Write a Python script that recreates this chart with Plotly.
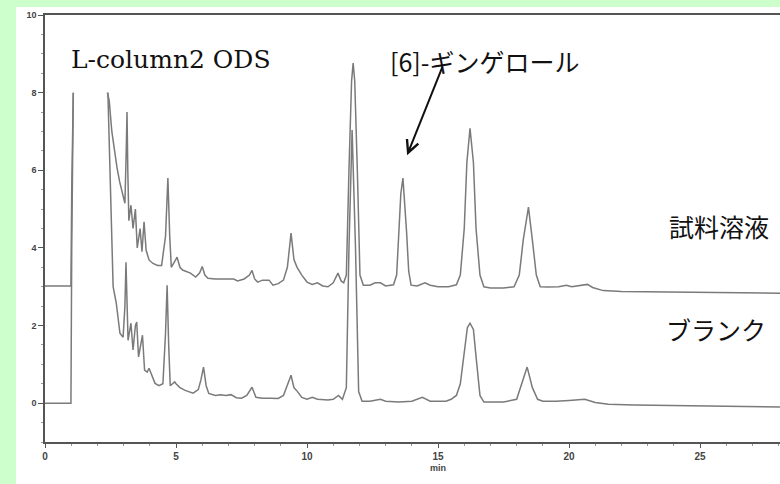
import plotly.graph_objects as go

# ---- data (time in min, signal in plotted units) ----
sample_time = [0.0, 0.99, 1.02, 1.08, 1.6,
               2.38, 2.45, 2.55, 2.65, 2.75, 2.85, 2.94, 3.05, 3.1, 3.13, 3.16, 3.2,
               3.28, 3.36, 3.45, 3.52, 3.63, 3.7, 3.78, 3.86, 3.97, 4.12, 4.3, 4.45,
               4.6, 4.69, 4.76, 4.82, 4.95, 5.04, 5.15, 5.25, 5.55, 5.75, 5.9, 6.0,
               6.1, 6.22, 6.5, 6.8, 7.0, 7.2, 7.35, 7.6, 7.8, 7.9, 8.0, 8.12, 8.3,
               8.55, 8.7, 8.9, 9.1, 9.25, 9.39, 9.5, 9.62, 9.8, 10.0, 10.2, 10.4,
               10.6, 10.8, 11.0, 11.18, 11.3, 11.4, 11.5, 11.6, 11.7, 11.76, 11.82,
               11.92, 12.02, 12.15, 12.4, 12.6, 12.8, 13.0, 13.3, 13.42, 13.5, 13.58,
               13.66, 13.72, 13.8, 13.88, 13.97, 14.2, 14.5, 14.7, 15.0, 15.4, 15.7,
               15.85, 16.0, 16.1, 16.22, 16.35, 16.45, 16.6, 16.75, 17.0, 17.5, 17.9,
               18.1, 18.25, 18.45, 18.6, 18.75, 18.9, 19.2, 19.6, 19.9, 20.1, 20.5,
               20.7, 20.9, 21.3, 22.0, 23.0, 24.0, 25.0, 26.0, 27.0, 28.1]
sample_signal = [3.02, 3.02, 5.5, 8.0, None,
                 8.0, 7.8, 7.0, 6.5, 6.06, 5.7, 5.41, 5.15, 6.5, 7.5, 6.0, 4.7,
                 5.1, 4.5, 5.0, 4.0, 4.5, 3.9, 4.67, 3.94, 3.69, 3.6, 3.55, 3.55,
                 4.3, 5.8, 4.3, 3.5, 3.65, 3.76, 3.5, 3.43, 3.35, 3.25, 3.35, 3.52,
                 3.3, 3.22, 3.2, 3.2, 3.2, 3.2, 3.15, 3.2, 3.3, 3.42, 3.2, 3.12, 3.17,
                 3.17, 3.04, 3.08, 3.17, 3.5, 4.38, 3.7, 3.5, 3.3, 3.12, 3.06, 3.1,
                 3.02, 3.0, 3.1, 3.35, 3.15, 3.1, 3.3, 6.0, 8.3, 8.76, 8.3,
                 6.0, 3.3, 3.04, 3.04, 3.1, 3.1, 3.02, 3.05, 3.3, 4.4, 5.4,
                 5.8, 5.3, 4.4, 3.4, 3.04, 3.02, 3.1, 3.04, 3.0, 3.0, 3.05,
                 3.3, 4.5, 6.2, 7.08, 6.2, 4.5, 3.3, 3.0, 2.97, 2.97, 3.0,
                 3.3, 4.2, 5.05, 4.2, 3.3, 3.0, 2.99, 3.0, 3.04, 3.0, 3.03,
                 3.06, 2.98, 2.9, 2.88, 2.87, 2.86, 2.85, 2.84, 2.83, 2.83]

blank_time = [0.0, 0.99, 1.02, 1.08, 1.6,
              2.4, 2.5, 2.6, 2.72, 2.86, 2.98, 3.05, 3.09, 3.13, 3.17, 3.28, 3.36,
              3.45, 3.5, 3.57, 3.72, 3.8, 3.9, 3.97, 4.05, 4.2, 4.35, 4.5, 4.6,
              4.66, 4.72, 4.78, 4.95, 5.0, 5.15, 5.35, 5.65, 5.85, 5.95, 6.05, 6.15,
              6.25, 6.5, 6.7, 6.9, 7.1, 7.3, 7.5, 7.7, 7.9, 8.05, 8.3, 8.6, 8.9,
              9.1, 9.25, 9.39, 9.5, 9.6, 9.8, 10.0, 10.2, 10.4, 10.8, 11.0, 11.2,
              11.35, 11.5, 11.6, 11.72, 11.85, 11.97, 12.1, 12.4, 12.8, 13.0, 13.5,
              14.0, 14.4, 14.7, 15.3, 15.5, 15.7, 15.85, 16.0, 16.12, 16.22, 16.35,
              16.45, 16.6, 16.75, 17.5, 18.0, 18.15, 18.4, 18.6, 18.8, 19.0, 19.5,
              20.0, 20.6, 21.0, 21.5, 22.5, 24.0, 26.0, 28.1]
blank_signal = [0.0, 0.0, 4.0, 8.0, None,
                8.0, 5.5, 3.0, 2.58, 1.8, 1.7, 2.5, 3.63, 2.2, 1.62, 2.06, 1.37,
                2.0, 2.09, 1.19, 1.75, 0.85, 0.8, 0.9, 0.77, 0.51, 0.45, 0.5, 1.8,
                3.04, 1.5, 0.45, 0.55, 0.5, 0.4, 0.33, 0.26, 0.35, 0.6, 0.93, 0.45,
                0.25, 0.2, 0.22, 0.2, 0.22, 0.14, 0.13, 0.2, 0.41, 0.15, 0.13, 0.13, 0.12,
                0.2, 0.45, 0.72, 0.4, 0.33, 0.15, 0.1, 0.15, 0.1, 0.08, 0.1, 0.2,
                0.1, 0.4, 4.0, 7.04, 4.0, 0.3, 0.05, 0.05, 0.1, 0.05, 0.03,
                0.05, 0.15, 0.05, 0.05, 0.1, 0.2, 0.5, 1.4, 1.95, 2.06, 1.9,
                1.2, 0.2, 0.03, 0.03, 0.1, 0.4, 0.93, 0.4, 0.1, 0.05, 0.05,
                0.07, 0.1, 0.02, -0.03, -0.05, -0.07, -0.08, -0.1]

x_ticks = [0, 5, 10, 15, 20, 25]
y_ticks = [0, 2, 4, 6, 8, 10]

title_text = "L-column2 ODS"
peak_label = "[6]-ギンゲロール"
sample_label = "試料溶液"
blank_label = "ブランク"
x_unit = "min"

LINE = "#7a7a7a"

fig = go.Figure()
fig.add_trace(go.Scatter(x=sample_time, y=sample_signal, mode="lines",
                         line=dict(color=LINE, width=1.5), connectgaps=False,
                         name=sample_label, showlegend=False))
fig.add_trace(go.Scatter(x=blank_time, y=blank_signal, mode="lines",
                         line=dict(color=LINE, width=1.5), connectgaps=False,
                         name=blank_label, showlegend=False))

# white card over the green page
fig.add_shape(type="rect", xref="paper", yref="paper",
              x0=-0.0395, x1=1.02, y0=-0.12, y1=1.0187,
              fillcolor="white", line=dict(width=0), layer="below")

fig.add_annotation(text=title_text, xref="x", yref="paper", x=(171 - 45) / 26.2,
                   y=(442 - 43) / 427, showarrow=False,
                   font=dict(family="DejaVu Serif", size=25, color="#111"))
fig.add_annotation(text=peak_label, xref="x", yref="paper", x=(484 - 45) / 26.2,
                   y=(442 - 41) / 427, showarrow=False,
                   font=dict(family="Noto Sans CJK JP", size=25, color="#111"))
fig.add_annotation(text="", x=13.82, y=6.39, xref="x", yref="y",
                   ax=36, ay=-90, showarrow=True, arrowhead=5, arrowsize=1.2,
                   arrowwidth=2, arrowcolor="#111")
fig.add_annotation(text=sample_label, xref="x", yref="paper", x=(719 - 45) / 26.2,
                   y=(442 - 226) / 427, showarrow=False,
                   font=dict(family="Noto Sans CJK JP", size=25, color="#111"))
fig.add_annotation(text=blank_label, xref="x", yref="paper", x=(716 - 45) / 26.2,
                   y=(442 - 349) / 427, showarrow=False,
                   font=dict(family="Noto Sans CJK JP", size=25, color="#111"))
fig.add_annotation(text=x_unit, xref="x", yref="paper", x=15, y=-(475 - 442) / 427,
                   showarrow=False,
                   font=dict(family="Liberation Sans", size=9, color="#444", weight="bold"))

fig.update_layout(
    width=780, height=484,
    margin=dict(l=45, r=0, t=15, b=42),
    paper_bgcolor="#ccffcc", plot_bgcolor="white",
    xaxis=dict(range=[0, 28.05], tickvals=x_ticks, ticks="outside", ticklen=4,
               tickcolor="#555", showgrid=False, zeroline=False,
               showline=True, linecolor="#555", linewidth=1.5, mirror=True,
               tickfont=dict(family="Liberation Sans", size=10, color="#444", weight="bold"),
               minor=dict(dtick=1, ticks="outside", ticklen=2, tickcolor="#999")),
    yaxis=dict(range=[-1, 10], tickvals=y_ticks, ticks="outside", ticklen=5,
               tickcolor="#555", showgrid=False, zeroline=False,
               showline=True, linecolor="#555", linewidth=1.5,
               tickfont=dict(family="Liberation Sans", size=9, color="#444", weight="bold"),
               minor=dict(dtick=0.5, ticks="outside", ticklen=2, tickcolor="#999")),
)

fig.write_html("out.html", config={"displayModeBar": False},
               post_script="document.body.style.margin='0';document.body.style.overflow='hidden';")
